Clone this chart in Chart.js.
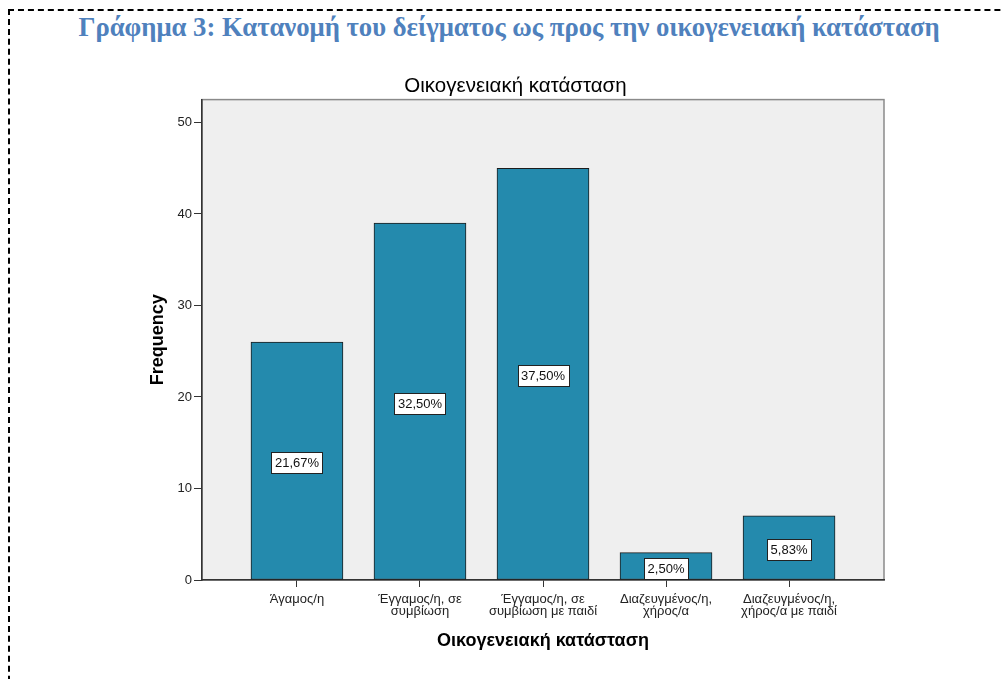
<!DOCTYPE html>
<html>
<head>
<meta charset="utf-8">
<script src="https://cdn.jsdelivr.net/npm/chart.js@4"></script>
<style>
  html, body { margin: 0; padding: 0; background: #fff; }
  #wrap { position: relative; width: 1001px; height: 679px; overflow: hidden; }
  #frame { position: absolute; left: 8px; top: 9px; width: 1100px; height: 800px;
           border-top: 2px dashed #000; border-left: 2px dashed #000; }
  #heading { position: absolute; left: 0; top: 12px; width: 1018px; text-align: center;
             font-family: "Liberation Serif", "Times New Roman", serif; font-weight: bold;
             font-size: 26.7px; color: #4f81bd; margin: 0; }
  #chart { position: absolute; left: 0; top: 0; }
</style>
</head>
<body>
<div id="wrap">
  <div id="frame"></div>
  <h1 id="heading">Γράφημα 3: Κατανομή του δείγματος ως προς την οικογενειακή κατάσταση</h1>
  <canvas id="chart" width="1001" height="679"></canvas>
</div>
<script>
// data
const categories = [
  ['Άγαμος/η'],
  ['Έγγαμος/η, σε', 'συμβίωση'],
  ['Έγγαμος/η, σε', 'συμβίωση με παιδί'],
  ['Διαζευγμένος/η,', 'χήρος/α'],
  ['Διαζευγμένος/η,', 'χήρος/α με παιδί']
];
const counts = [26, 39, 45, 3, 7];
const pctLabels = ['21,67%', '32,50%', '37,50%', '2,50%', '5,83%'];
const yTicks = [0, 10, 20, 30, 40, 50];

Chart.defaults.font.family = '"Liberation Sans", Arial, sans-serif';
Chart.defaults.color = '#222';

// grey plot background + frame
const plotFrame = {
  id: 'plotFrame',
  beforeDraw(chart) {
    const { ctx, chartArea: a } = chart;
    ctx.save();
    ctx.fillStyle = '#efefef';
    ctx.fillRect(a.left, a.top, a.right - a.left, a.bottom - a.top);
    ctx.strokeStyle = '#8a8a8a';
    ctx.lineWidth = 1.5;
    ctx.strokeRect(a.left, a.top, a.right - a.left, a.bottom - a.top);
    ctx.restore();
  }
};

// white percentage boxes in the middle of each bar
const pctBoxes = {
  id: 'pctBoxes',
  afterDatasetsDraw(chart) {
    const { ctx } = chart;
    const meta = chart.getDatasetMeta(0);
    ctx.save();
    ctx.font = '13px "Liberation Sans", Arial, sans-serif';
    ctx.textAlign = 'center';
    ctx.textBaseline = 'middle';
    meta.data.forEach((bar, i) => {
      const txt = pctLabels[i];
      const w = Math.round(ctx.measureText(txt).width + 7);
      const h = 21;
      const cx = bar.x;
      const cy = (bar.y + bar.base) / 2 + 2;
      const x0 = Math.round(cx - w / 2) + 0.5;
      const y0 = Math.round(cy - h / 2) + 0.5;
      ctx.fillStyle = '#fff';
      ctx.fillRect(x0, y0, w, h);
      ctx.strokeStyle = '#222';
      ctx.lineWidth = 1;
      ctx.strokeRect(x0, y0, w, h);
      ctx.fillStyle = '#111';
      ctx.fillText(txt, cx, cy + 1);
    });
    ctx.restore();
  }
};

new Chart(document.getElementById('chart'), {
  type: 'bar',
  data: {
    datasets: [{
      label: 'Frequency',
      data: counts.map((c, i) => ({ x: i, y: c })),
      backgroundColor: '#248aad',
      borderColor: '#1c1c1c',
      borderWidth: 1,
      borderSkipped: false,
      barThickness: 92
    }]
  },
  options: {
    responsive: false,
    animation: false,
    layout: { padding: { left: 147, right: 117, top: 59, bottom: 27 } },
    plugins: {
      legend: { display: false },
      tooltip: { enabled: false },
      title: {
        display: true,
        text: 'Οικογενειακή κατάσταση',
        color: '#000',
        font: { size: 20.5, weight: 'normal' },
        padding: { top: 15, bottom: 1 }
      }
    },
    scales: {
      x: {
        type: 'linear',
        bounds: 'data',
        offset: false,
        min: -0.772,
        max: 4.772,
        afterFit: (s) => { s.height = 72; },
        afterBuildTicks: (s) => { s.ticks = categories.map((c, i) => ({ value: i })); },
        ticks: {
          autoSkip: false,
          maxRotation: 0,
          padding: 6,
          font: { size: 13, lineHeight: 0.95 },
          color: '#222',
          callback: (v) => categories[v]
        },
        grid: { offset: false, drawOnChartArea: false, tickLength: 7, color: '#333' },
        border: { color: '#333', width: 1.5 },
        title: {
          display: true,
          text: 'Οικογενειακή κατάσταση',
          color: '#000',
          font: { size: 18, weight: 'bold' },
          padding: 0
        }
      },
      y: {
        bounds: 'data',
        min: 0,
        max: 52.5,
        afterFit: (s) => { s.width = 55; },
        afterBuildTicks: (s) => { s.ticks = yTicks.map(v => ({ value: v })); },
        ticks: { padding: 2, font: { size: 13 }, color: '#222' },
        grid: { drawOnChartArea: false, tickLength: 8, color: '#333' },
        border: { color: '#333', width: 1.5 },
        title: {
          display: true,
          text: 'Frequency',
          color: '#000',
          font: { size: 18, weight: 'bold' },
          padding: 0
        }
      }
    }
  },
  plugins: [plotFrame, pctBoxes]
});
</script>
</body>
</html>
